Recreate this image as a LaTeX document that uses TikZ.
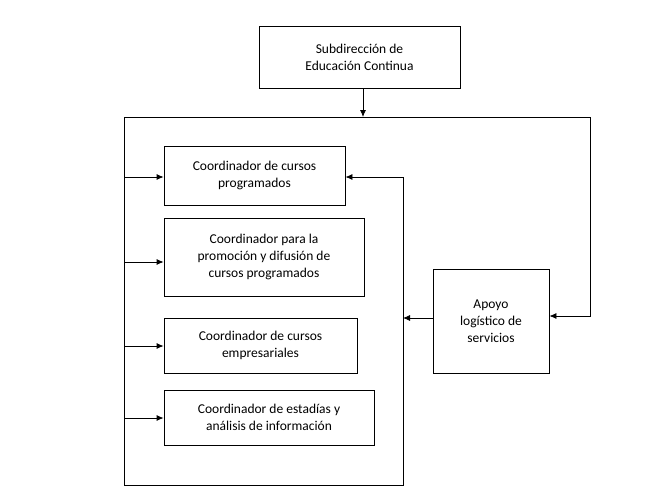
\documentclass[tikz,border=0pt]{standalone}
\usepackage{fontspec}
\setmainfont{Carlito}
\usetikzlibrary{arrows.meta}
\begin{document}
\begin{tikzpicture}[x=1pt,y=-1pt,
  bx/.style={draw,line width=0.8pt,align=center,font=\fontsize{13.5}{17}\selectfont,inner sep=0pt},
  ar/.style={line width=0.8pt,-{Latex[length=7pt,width=6pt]}},
  ln/.style={line width=0.8pt}]
\useasboundingbox (0,0) rectangle (659,495);
\node[bx,minimum width=201,minimum height=62] (top) at (359.5,57) {Subdirección de\\Educación Continua};
\node[bx,minimum width=181,minimum height=59] (b1) at (254.5,175.5) {Coordinador de cursos\\programados};
\node[bx,minimum width=200,minimum height=78] (b2) at (264,257) {Coordinador para la\\promoción y difusión de\\cursos programados};
\node[bx,minimum width=193,minimum height=55] (b3) at (260.5,345.5) {Coordinador de cursos\\empresariales};
\node[bx,minimum width=210,minimum height=55] (b4) at (269,417.5) {Coordinador de estadías y\\análisis de información};
\node[bx,minimum width=116,minimum height=104] (ap) at (491,321) {Apoyo\\logístico de\\servicios};
\coordinate (tl) at (124,117);
\coordinate (tr) at (590,117);
\coordinate (tm) at (363,117);
\coordinate (bl) at (124,485);
\coordinate (br) at (403,485);
\coordinate (rt) at (403,177);
\draw[ar] (top.south -| tm) -- (tm);
\draw[ln] (bl) -- (tl) -- (tr);
\draw[ar] (tr) -- (590,316) -- (ap.east |- 0,316);
\draw[ln] (bl) -- (br) -- (rt);
\draw[ar] (rt) -- (b1.east |- rt);
\draw[ar] (ap.west |- 0,318) -- (403,318);
\draw[ar] (124,177) -- (b1.west |- 0,177);
\draw[ar] (124,262) -- (b2.west |- 0,262);
\draw[ar] (124,346) -- (b3.west |- 0,346);
\draw[ar] (124,418) -- (b4.west |- 0,418);
\end{tikzpicture}
\end{document}
